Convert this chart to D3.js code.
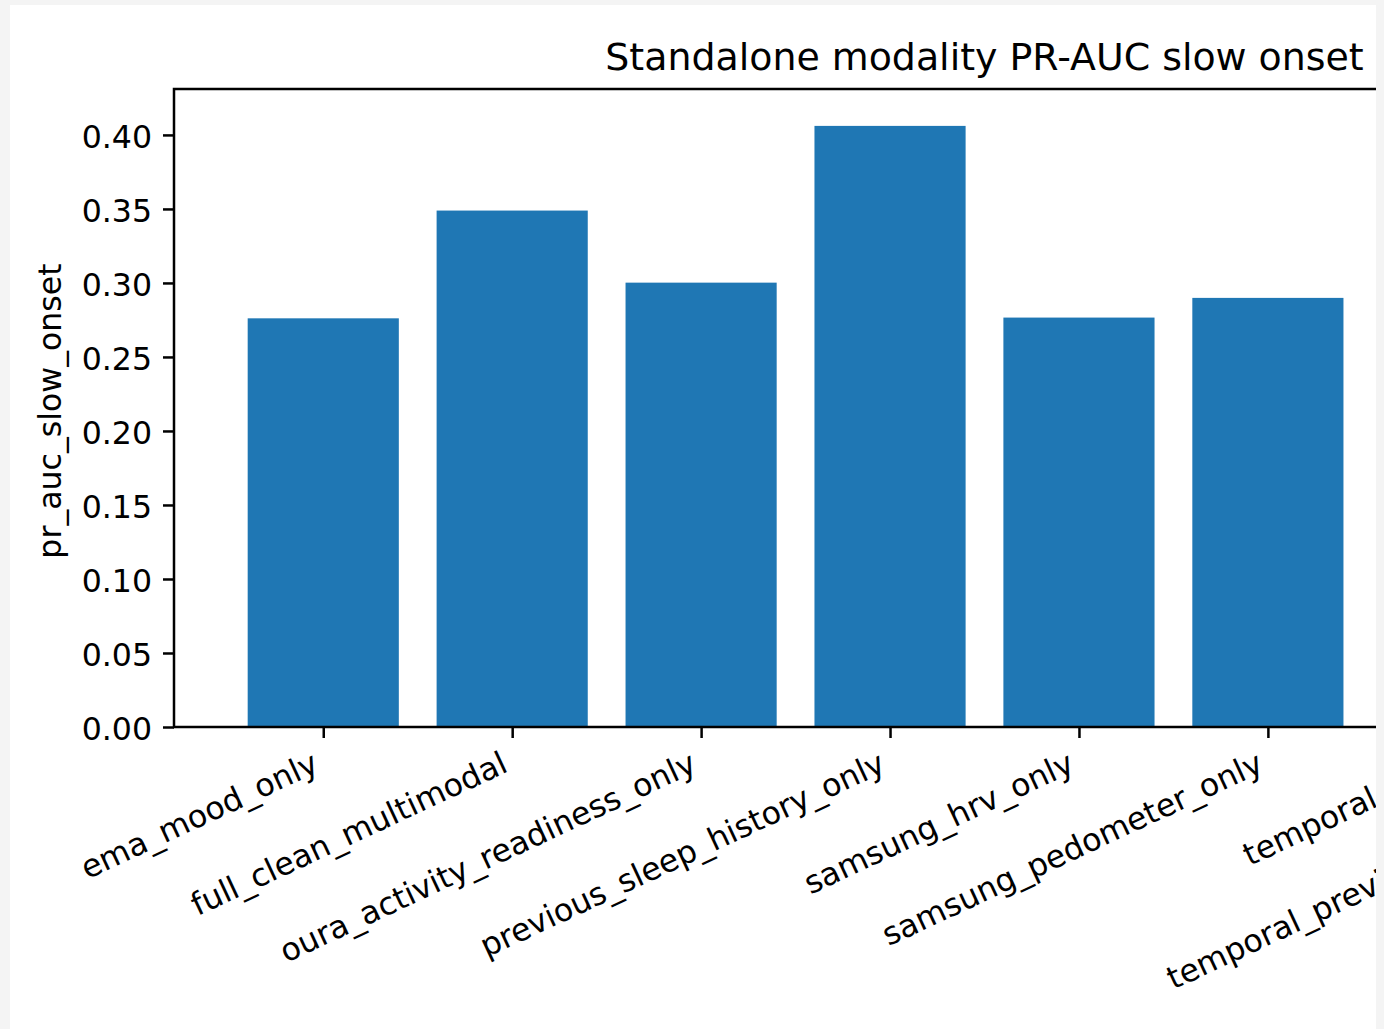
<!DOCTYPE html>
<html>
<head>
<meta charset="utf-8">
<script src="https://cdn.jsdelivr.net/npm/d3@7"></script>
<style>
  html, body { margin: 0; padding: 0; background: #f4f4f4; }
  svg { display: block; }
  text { font-family: "DejaVu Sans", sans-serif; fill: #000; }
</style>
</head>
<body>
<svg id="chart" width="1384" height="1029"></svg>
<script>
// Standalone modality results, PR-AUC for slow onset
const categories = [
  "ema_mood_only",
  "full_clean_multimodal",
  "oura_activity_readiness_only",
  "previous_sleep_history_only",
  "samsung_hrv_only",
  "samsung_pedometer_only",
  "temporal_only",
  "temporal_previous_sleep_history"
];
const prAucSlowOnset = [0.2761, 0.3489, 0.3002, 0.4061, 0.2766, 0.2899, 0.3050, 0.4105];
const yTicks = [0.00, 0.05, 0.10, 0.15, 0.20, 0.25, 0.30, 0.35, 0.40];

const titleText = "Standalone modality PR-AUC slow onset";
const yLabel = "pr_auc_slow_onset";

// Figure layout (pixels)
const fig = { x: 10, y: 5, w: 1366, h: 1024 };
const ax = { left: 174, top: 89, right: 1795, bottom: 727 };
const fs = 31.6;          // tick / axis label font size
const titleFs = 37.9;
const tickLen = 11, tickPad = 11, lw = 2.5;
const rot = 25;
const barColor = "#1f77b4";

const svg = d3.select("#chart");

svg.append("defs").append("clipPath").attr("id", "figclip")
  .append("rect").attr("x", fig.x).attr("y", fig.y).attr("width", fig.w).attr("height", fig.h);

const g = svg.append("g").attr("clip-path", "url(#figclip)");
g.append("rect").attr("x", fig.x).attr("y", fig.y).attr("width", fig.w).attr("height", fig.h).attr("fill", "#fff");

// Bar positions follow the usual 0.8-wide bars with 5% margins
const n = categories.length;
const barW = 0.8;
const margin = 0.05 * (n - 1 + barW);
const x = d3.scaleLinear()
  .domain([-barW / 2 - margin, n - 1 + barW / 2 + margin])
  .range([ax.left, ax.right]);
const y = d3.scaleLinear()
  .domain([0, d3.max(prAucSlowOnset) * 1.05])
  .range([ax.bottom, ax.top]);

// Bars
g.append("g").selectAll("rect").data(prAucSlowOnset).join("rect")
  .attr("x", (d, i) => x(i - barW / 2))
  .attr("width", (d, i) => x(i + barW / 2) - x(i - barW / 2))
  .attr("y", d => y(d))
  .attr("height", d => y(0) - y(d))
  .attr("fill", barColor);

// Y axis ticks and labels
const yAxis = d3.axisLeft(y).tickValues(yTicks).tickFormat(d3.format(".2f"))
  .tickSize(tickLen).tickPadding(tickPad);
const yg = g.append("g").attr("transform", `translate(${ax.left},0)`).call(yAxis);
yg.select(".domain").remove();
yg.selectAll(".tick line").attr("stroke", "#000").attr("stroke-width", lw);
yg.selectAll(".tick text")
  .attr("font-size", fs).attr("font-family", "DejaVu Sans").attr("fill", "#000")
  .attr("dy", "0.40em");

// X axis ticks and rotated labels
const xAxis = d3.axisBottom(x).tickValues(d3.range(n)).tickFormat(i => categories[i])
  .tickSize(tickLen).tickPadding(0);
const xg = g.append("g").attr("transform", `translate(0,${ax.bottom})`).call(xAxis);
xg.select(".domain").remove();
xg.selectAll(".tick line").attr("stroke", "#000").attr("stroke-width", lw);
const s = Math.sin(rot * Math.PI / 180), c = Math.cos(rot * Math.PI / 180);
const asc = 0.76 * fs, desc = 0.24 * fs;
xg.selectAll(".tick text")
  .attr("font-size", fs).attr("font-family", "DejaVu Sans").attr("fill", "#000")
  .attr("text-anchor", "end")
  .attr("y", null).attr("dy", null)
  .attr("transform", `translate(${-desc * s},${tickLen + tickPad + asc * c}) rotate(${-rot})`);

// Spines
const spines = g.append("g").attr("fill", "none").attr("stroke", "#000").attr("stroke-width", lw)
  .attr("stroke-linecap", "square");
spines.append("rect")
  .attr("x", ax.left).attr("y", ax.top)
  .attr("width", ax.right - ax.left).attr("height", ax.bottom - ax.top);

// Title
g.append("text")
  .attr("x", (ax.left + ax.right) / 2).attr("y", ax.top - 19)
  .attr("text-anchor", "middle").attr("font-size", titleFs)
  .text(titleText);

// Y axis label
g.append("text")
  .attr("transform", `translate(61,${(ax.top + ax.bottom) / 2 + 3}) rotate(-90)`)
  .attr("text-anchor", "middle").attr("font-size", fs)
  .text(yLabel);
</script>
</body>
</html>
